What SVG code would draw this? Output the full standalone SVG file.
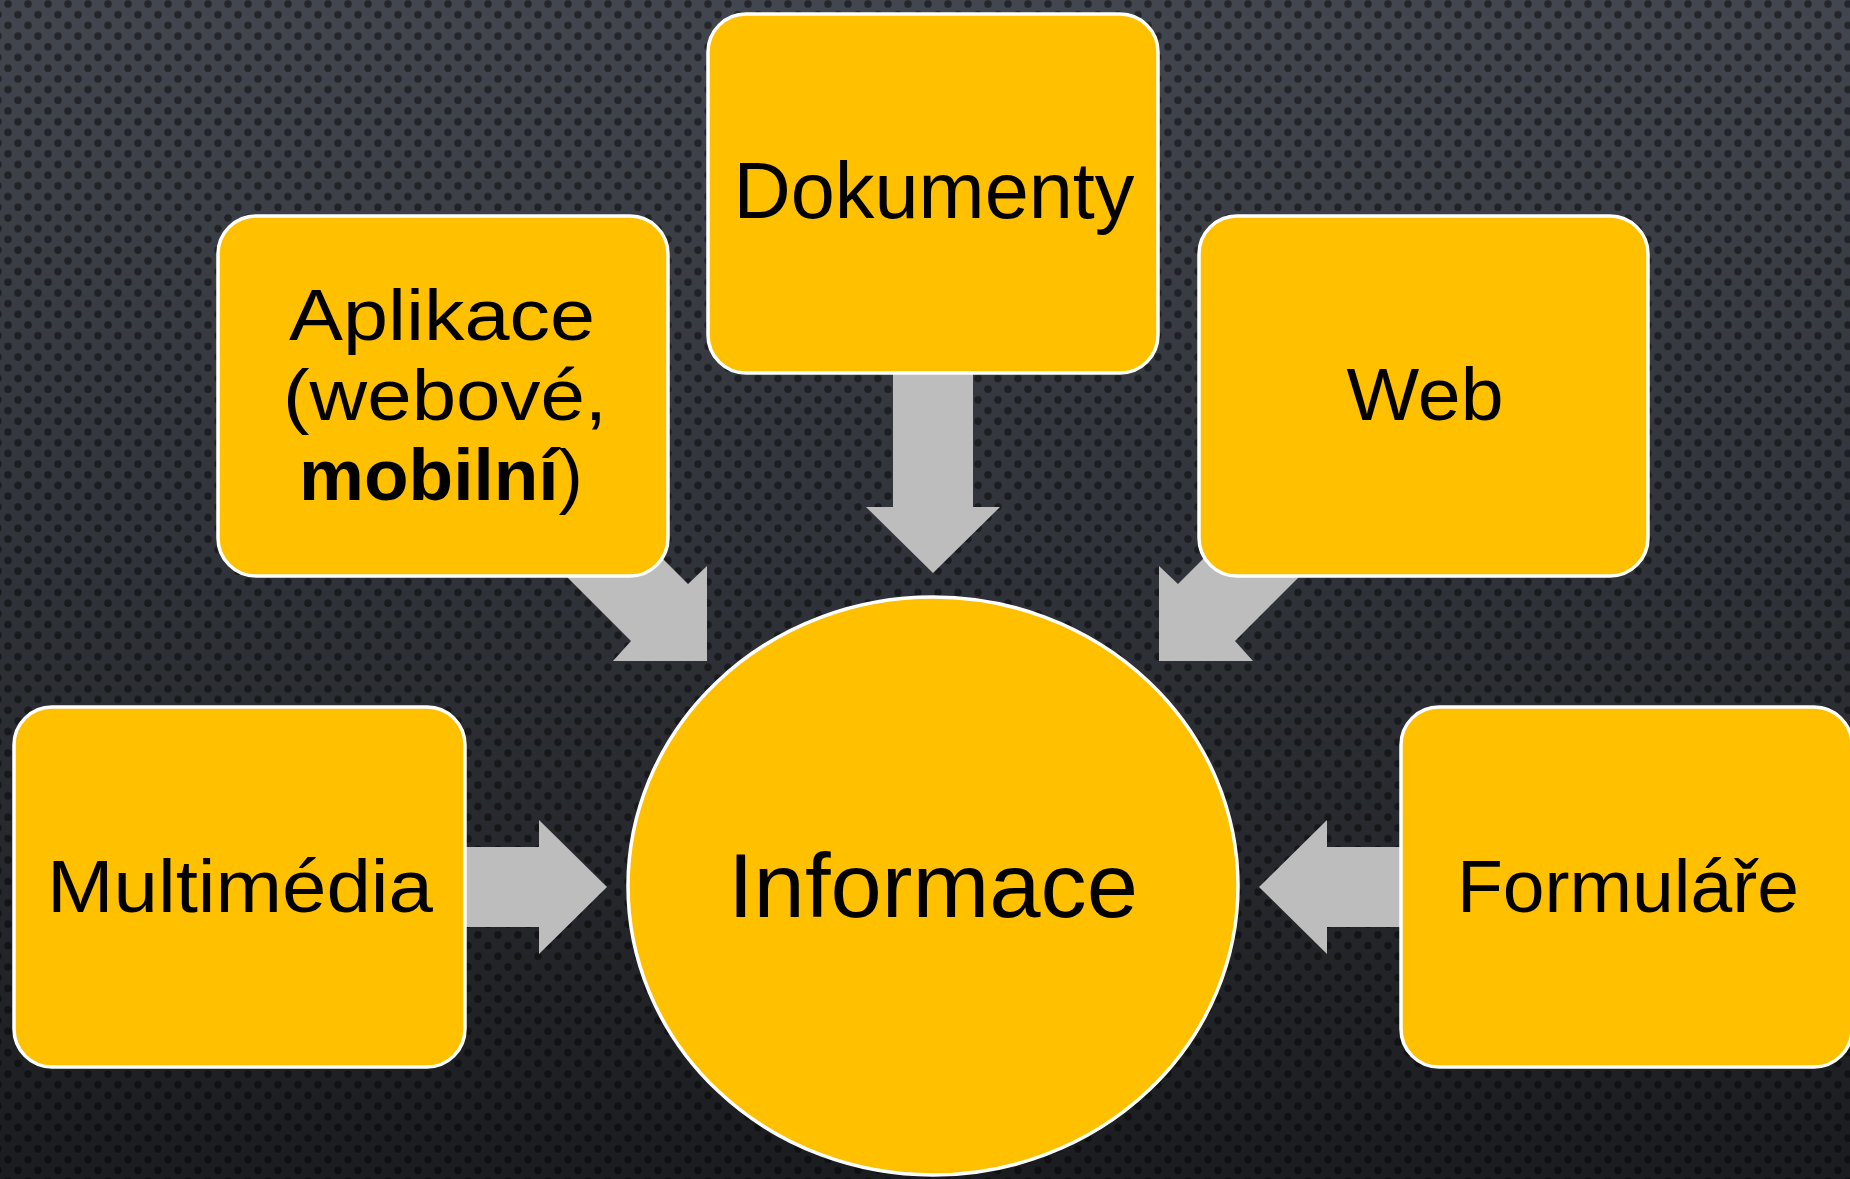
<svg xmlns="http://www.w3.org/2000/svg" width="1850" height="1179" viewBox="0 0 1850 1179">
  <defs>
    <linearGradient id="bg" x1="0" y1="0" x2="0" y2="1">
      <stop offset="0" stop-color="#42464e"/>
      <stop offset="0.5" stop-color="#2f3238"/>
      <stop offset="1" stop-color="#1b1c1f"/>
    </linearGradient>
    <pattern id="dots" x="0" y="0" width="20" height="21.4" patternUnits="userSpaceOnUse">
      <circle cx="8" cy="4" r="3.8" fill="#000" fill-opacity="0.45"/>
      <circle cx="18" cy="14.7" r="3.8" fill="#000" fill-opacity="0.45"/>
      <circle cx="-2" cy="14.7" r="3.8" fill="#000" fill-opacity="0.45"/>
    </pattern>
    <style>
      .box { fill: #ffc000; stroke: #ffffff; stroke-width: 3.5; }
      .arrow { fill: #bdbdbd; }
      .lbl { font-family: "Liberation Sans", Arial, sans-serif; fill: #000000; text-anchor: middle; }
    </style>
  </defs>

  <rect x="0" y="0" width="1850" height="1179" fill="url(#bg)"/>
  <rect x="0" y="0" width="1850" height="1179" fill="url(#dots)"/>

  <g id="connectors">
    <polygon class="arrow" points="893,360 973,360 973,507 1000,507 933,573 866,507 893,507"/>
    <polygon class="arrow" points="600,496 688,584 707,566 707,661 613,661 631,641 543,553"/>
    <polygon class="arrow" points="1266,496 1178,584 1159,566 1159,661 1253,661 1235,641 1323,553"/>
    <polygon class="arrow" points="450,847 539,847 539,820 607,887 539,954 539,927 450,927"/>
    <polygon class="arrow" points="1416,847 1327,847 1327,820 1259,887 1327,954 1327,927 1416,927"/>
  </g>

  <g id="node-informace">
    <ellipse class="box" cx="933" cy="886" rx="305" ry="289"/>
    <text class="lbl" x="933" y="917" font-size="90" textLength="410" lengthAdjust="spacingAndGlyphs">Informace</text>
  </g>

  <g id="node-dokumenty">
    <rect class="box" x="708" y="14" width="450" height="359" rx="38" ry="38"/>
    <text class="lbl" x="934" y="218" font-size="80" textLength="401" lengthAdjust="spacingAndGlyphs">Dokumenty</text>
  </g>

  <g id="node-aplikace">
    <rect class="box" x="218" y="216" width="450" height="360" rx="38" ry="38"/>
    <text class="lbl" x="442" y="340" font-size="73" textLength="306" lengthAdjust="spacingAndGlyphs">Aplikace</text>
    <text class="lbl" x="445" y="420" font-size="73" textLength="324" lengthAdjust="spacingAndGlyphs">(webové,</text>
    <text class="lbl" x="441" y="500" font-size="73"><tspan font-weight="bold">mobilní</tspan>)</text>
  </g>

  <g id="node-web">
    <rect class="box" x="1199" y="216" width="449" height="360" rx="38" ry="38"/>
    <text class="lbl" x="1425" y="420" font-size="74" textLength="157" lengthAdjust="spacingAndGlyphs">Web</text>
  </g>

  <g id="node-multimedia">
    <rect class="box" x="14" y="707" width="451" height="360" rx="38" ry="38"/>
    <text class="lbl" x="240" y="912" font-size="74" textLength="386" lengthAdjust="spacingAndGlyphs">Multimédia</text>
  </g>

  <g id="node-formulare">
    <rect class="box" x="1401" y="707" width="451" height="360" rx="38" ry="38"/>
    <text class="lbl" x="1628" y="912" font-size="74" textLength="342" lengthAdjust="spacingAndGlyphs">Formuláře</text>
  </g>
</svg>
